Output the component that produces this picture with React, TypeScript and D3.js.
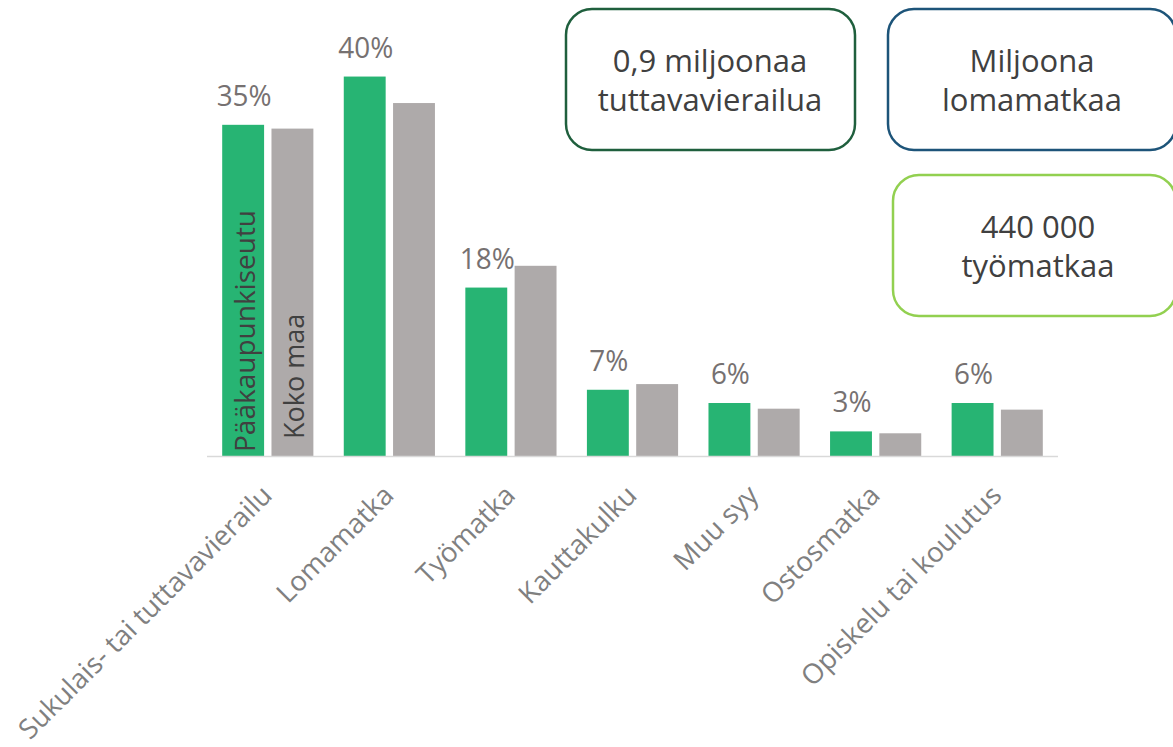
import React from "react";
import * as d3 from "d3";

const categories = [
  "Sukulais- tai tuttavavierailu",
  "Lomamatka",
  "Työmatka",
  "Kauttakulku",
  "Muu syy",
  "Ostosmatka",
  "Opiskelu tai koulutus",
];
const seriesNames = ["Pääkaupunkiseutu", "Koko maa"];
const paakaupunkiseutu = [0.35, 0.401, 0.178, 0.07, 0.056, 0.026, 0.056];
const kokoMaa = [0.346, 0.373, 0.201, 0.076, 0.05, 0.024, 0.049];
const calloutLines = [
  ["0,9 miljoonaa", "tuttavavierailua"],
  ["Miljoona", "lomamatkaa"],
  ["440 000", "työmatkaa"],
];

const W = 1173;
const H = 747;
const FONT = "'Open Sans', sans-serif";

export default function App() {
  const x0 = d3
    .scaleBand<string>()
    .domain(categories)
    .range([207, 1058])
    .paddingInner(0.25)
    .paddingOuter(0.125);
  const x1 = d3
    .scaleBand<string>()
    .domain(seriesNames)
    .range([0, x0.bandwidth()])
    .paddingInner(0.15);
  const y = d3.scaleLinear().domain([0, 0.4]).range([456, 77.5]);
  const colors = d3.scaleOrdinal<string, string>().domain(seriesNames).range(["#27b473", "#aeaaaa"]);
  const fmt = d3.format(".0%");
  const seriesData = [paakaupunkiseutu, kokoMaa];

  const boxes = [
    { x: 566, y: 9, w: 289, h: 141, stroke: "#1f5f3d", cx: 710, b: 72 },
    { x: 888, y: 9, w: 288, h: 141, stroke: "#1d5479", cx: 1032, b: 72 },
    { x: 893, y: 175, w: 283, h: 141, stroke: "#92d050", cx: 1038, b: 238 },
  ];

  return (
    <svg
      width={W}
      height={H}
      style={{ position: "absolute", left: 0, top: 0, background: "#fff" }}
      fontFamily={FONT}
    >
      {categories.map((c, i) => (
        <g key={c} transform={`translate(${x0(c)},0)`}>
          {seriesNames.map((s, j) => {
            const v = seriesData[j][i];
            return (
              <rect
                key={s}
                x={x1(s)}
                y={y(v)}
                width={x1.bandwidth()}
                height={y(0) - y(v)}
                fill={colors(s)}
              />
            );
          })}
        </g>
      ))}
      <line x1={207} x2={1058} y1={y(0) + 0.5} y2={y(0) + 0.5} stroke="#d9d9d9" strokeWidth={1.5} />
      {categories.map((c, i) => {
        const v = paakaupunkiseutu[i];
        const cx = (x0(c) as number) + (x1(seriesNames[0]) as number) + x1.bandwidth() / 2;
        return (
          <text
            key={c}
            transform={`translate(${cx + 1},${y(v) - 19}) scale(0.93,1)`}
            textAnchor="middle"
            fontSize={30}
            fill="#767171"
          >
            {fmt(v)}
          </text>
        );
      })}
      {seriesNames.map((s, j) => {
        const c = categories[0];
        const cx = (x0(c) as number) + (x1(s) as number) + x1.bandwidth() / 2;
        const yStart = j === 0 ? 452 : 439;
        return (
          <text
            key={s}
            transform={`translate(${cx + 12},${yStart}) rotate(-90)`}
            fontSize={j === 0 ? 28 : 27}
            fill="#404040"
          >
            {s}
          </text>
        );
      })}
      {categories.map((c) => {
        const cx = (x0(c) as number) + x0.bandwidth() / 2;
        return (
          <text
            key={c}
            transform={`translate(${cx + 6},${497}) rotate(-45)`}
            textAnchor="end"
            fontSize={27.5}
            fill="#808080"
          >
            {c}
          </text>
        );
      })}
      {boxes.map((b, i) => (
        <g key={i}>
          <rect
            x={b.x}
            y={b.y}
            width={b.w}
            height={b.h}
            rx={26}
            ry={26}
            fill="#fff"
            stroke={b.stroke}
            strokeWidth={2.5}
          />
          {calloutLines[i].map((t, k) => (
            <text
              key={k}
              x={b.cx}
              y={b.b + k * 38.5}
              textAnchor="middle"
              fontSize={31}
              fill="#404040"
            >
              {t}
            </text>
          ))}
        </g>
      ))}
    </svg>
  );
}
